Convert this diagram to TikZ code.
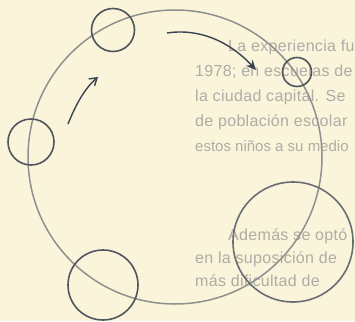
\documentclass[tikz,border=0pt]{standalone}
\usepackage{fontspec}
\setmainfont{Liberation Sans}
\usetikzlibrary{arrows.meta}
\definecolor{paper}{HTML}{FAF4DA}
\definecolor{ghost}{HTML}{AEADA6}
\definecolor{pencil}{HTML}{8E918F}
\definecolor{lead}{HTML}{4F555C}
\definecolor{ink}{HTML}{3A4350}
\tikzset{
  ghosttext/.style={anchor=base west, inner sep=0pt, text=ghost, font=\fontsize{16}{18}\selectfont\addfontfeature{LetterSpace=2}},
  bigring/.style={draw=pencil, line width=1.5pt},
  ring/.style={draw=lead, line width=1.6pt},
  pencilarrow/.style={draw=ink, line width=1.4pt}
}
\begin{document}
\begin{tikzpicture}[x=1pt,y=-1pt]
\useasboundingbox (0,0) rectangle (355,321);
\fill[paper] (0,0) rectangle (355,321);
\begin{scope}
\clip (0,0) rectangle (355,321);
% show-through text of the page
\node[ghosttext] (t1) at (228,51) {La experiencia fu};
\node[ghosttext] (t2) at (195,76) {1978; en escuelas de};
\node[ghosttext] (t3) at (195,101) {la ciudad capital. Se};
\node[ghosttext] (t4) at (195,126) {de población escolar};
\node[ghosttext, font=\fontsize{15}{18}\selectfont] (t5) at (195,151) {estos niños a su medio};
\node[ghosttext] (t6) at (228,240) {Además se optó};
\node[ghosttext] (t7) at (195,263) {en la suposición de};
\node[ghosttext] (t8) at (195,286) {más dificultad de};
% big circle and the circles on it
\coordinate (O) at (175,157);
\draw[bigring] (O) circle[radius=147pt];
\coordinate (cL) at (31,142);
\coordinate (cT) at (113,30);
\coordinate (cS) at (297,72);
\coordinate (cR) at (293,242);
\coordinate (cB) at (103,285);
\draw[ring] (cL) circle[radius=23pt];
\draw[ring] (cT) circle[radius=21.5pt];
\draw[ring] (cS) circle[radius=14.5pt];
\draw[ring, draw=lead!85] (cR) circle[radius=60pt];
\draw[ring] (cB) circle[radius=35pt];
% arrows
\coordinate (a1s) at (68,124);
\coordinate (a1e) at (98,77);
\draw[pencilarrow, -{Straight Barb[length=7pt,width=9pt]}] (a1s) .. controls (76,104) and (85,88) .. (a1e);
\coordinate (a2s) at (167,33);
\coordinate (a2e) at (256,70);
\draw[pencilarrow, -{Stealth[length=10pt,width=9pt]}] (a2s) .. controls (200,28) and (230,42) .. (a2e);
\end{scope}
\end{tikzpicture}
\end{document}
